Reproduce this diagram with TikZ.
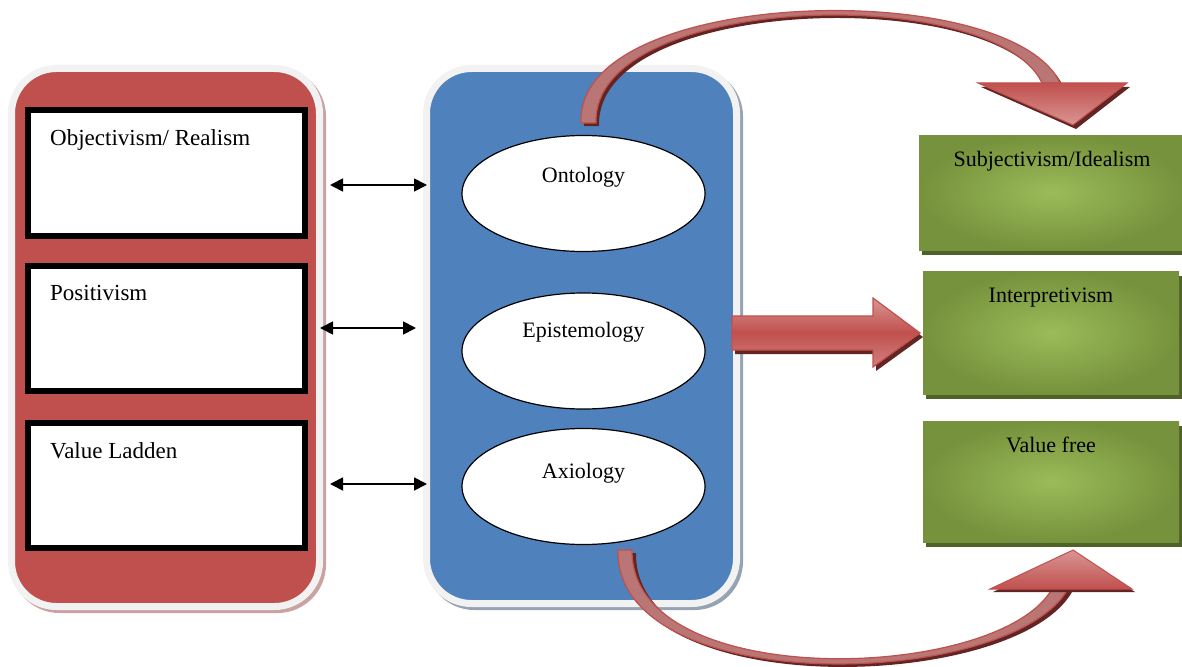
\documentclass[tikz,border=0pt]{standalone}
\usepackage{fontspec}
\setmainfont{Liberation Serif}
\usetikzlibrary{arrows.meta,shadows,shapes.geometric}
\definecolor{panelred}{HTML}{C0504D}
\definecolor{panelblue}{HTML}{4F81BD}
\definecolor{rimgray}{HTML}{F2F2F2}
\definecolor{redshadow}{HTML}{C9A3A2}
\definecolor{blueshadow}{HTML}{95A3B3}
\definecolor{greenedge}{HTML}{76923C}
\definecolor{greenmid}{HTML}{9BBB59}
\definecolor{greenshadow}{HTML}{4F6228}
\definecolor{arrowdark}{HTML}{632523}
\definecolor{arrowpink}{HTML}{D99694}
\definecolor{arrowmuted}{HTML}{B97674}

\begin{document}
\begin{tikzpicture}[x=1pt,y=-1pt,
    panel/.style={rounded corners=45pt, draw=rimgray, line width=7pt, inner sep=0pt},
    thinkbox/.style={draw=black, fill=white, line width=6pt, minimum width=277pt, minimum height=125pt, inner sep=0pt},
    oval/.style={ellipse, draw=black, fill=white, line width=1.2pt, minimum width=243pt, minimum height=116pt, inner sep=0pt},
    greenbox/.style={inner color=greenmid, outer color=greenedge, inner sep=0pt,
        general shadow={fill=greenshadow, shadow xshift=3pt, shadow yshift=-5pt}},
    lefttext/.style={anchor=base west, inner sep=0pt, font=\fontsize{23}{27}\selectfont},
    midtext/.style={anchor=base, inner sep=0pt, font=\fontsize{22}{26}\selectfont},
    dblarr/.style={{Triangle[length=13pt,width=13pt]}-{Triangle[length=13pt,width=13pt]}, line width=1.8pt},
    shaftfill/.style={fill=arrowmuted, draw=panelred, line width=1.2pt}]
    \useasboundingbox (0,0) rectangle (1182,666);

    % pannelli arrotondati
    \node[panel, fill=panelred, minimum width=308pt, minimum height=538pt,
        general shadow={fill=redshadow, draw=redshadow, line width=7pt, shadow xshift=3pt, shadow yshift=-3pt}] (red) at (165.5,337.5) {};
    \node[panel, fill=panelblue, minimum width=310pt, minimum height=535pt,
        general shadow={fill=blueshadow, draw=blueshadow, line width=7pt, shadow xshift=3pt, shadow yshift=-3pt}] (blue) at (581.5,336) {};

    % riquadri a sinistra
    \node[thinkbox] (obj) at (166.5,173) {};
    \node[thinkbox] (pos) at (166.5,328) {};
    \node[thinkbox] (val) at (166.5,485) {};
    \node[lefttext] (objtxt) at (50,145) {Objectivism/ Realism};
    \node[lefttext] (postxt) at (50,300) {Positivism};
    \node[lefttext] (valtxt) at (50,458) {Value Ladden};

    % ellissi
    \node[oval] (ont) at (583.5,193.5) {};
    \node[oval] (epi) at (583.5,351) {};
    \node[oval] (axi) at (583.5,486.5) {};
    \node[midtext] (onttxt) at (583.5,182) {Ontology};
    \node[midtext] (epitxt) at (583.5,337) {Epistemology};
    \node[midtext] (axitxt) at (583.5,478) {Axiology};

    % riquadri verdi
    \node[greenbox, minimum width=266pt, minimum height=115pt] (subj) at (1052,192.5) {};
    \node[greenbox, minimum width=256pt, minimum height=123pt] (interp) at (1051,332.5) {};
    \node[greenbox, minimum width=256pt, minimum height=121pt] (vfree) at (1051,481.5) {};
    \node[midtext] (subjtxt) at (1052,166) {Subjectivism/Idealism};
    \node[midtext] (interptxt) at (1051,302) {Interpretivism};
    \node[midtext] (vfreetxt) at (1051,452) {Value free};

    % frecce doppie
    \coordinate (la) at (330,185);
    \coordinate (ra) at (427,185);
    \coordinate (lb) at (320,328);
    \coordinate (rb) at (416,328);
    \coordinate (lc) at (330,484);
    \coordinate (rc) at (427,484);
    \draw[dblarr] (la) -- (ra);
    \draw[dblarr] (lb) -- (rb);
    \draw[dblarr] (lc) -- (rc);

    % freccia dritta
    \fill[arrowdark, shift={(3,4)}] (732,316) -- (873,316) -- (873,298) -- (920,333)
        -- (873,367) -- (873,350) -- (732,350) -- cycle;
    \path[draw=panelred, line width=1.2pt, top color=arrowpink, bottom color=arrowpink!70!panelred, middle color=panelred]
        (732,316) -- (873,316) -- (873,298) -- (920,333) -- (873,367) -- (873,350) -- (732,350) -- cycle;

    % freccia curva in alto
    \fill[arrowdark, shift={(3,3)}] (581,123) .. controls (575,-14) and (1010,-24) .. (1060,83)
        -- (1042,83) .. controls (995,-18) and (592,-8) .. (596,123) -- cycle;
    \path[shaftfill] (581,123) .. controls (575,-14) and (1010,-24) .. (1060,83)
        -- (1042,83) .. controls (995,-18) and (592,-8) .. (596,123) -- cycle;
    \fill[arrowdark, shift={(3,4)}] (978,83) -- (1127,83) -- (1073,125) -- cycle;
    \path[draw=panelred, line width=1pt, top color=panelred, bottom color=arrowpink]
        (978,83) -- (1127,83) -- (1073,125) -- cycle;

    % freccia curva in basso
    \fill[arrowdark, shift={(4,3)}] (618,550) .. controls (615,700) and (1010,690) .. (1068,589)
        -- (1052,589) .. controls (998,683) and (630,693) .. (632,550) -- cycle;
    \path[shaftfill] (618,550) .. controls (615,700) and (1010,690) .. (1068,589)
        -- (1052,589) .. controls (998,683) and (630,693) .. (632,550) -- cycle;
    \fill[arrowdark, shift={(3,3)}] (990,589) -- (1132,589) -- (1073,550) -- cycle;
    \path[draw=panelred, line width=1pt, top color=arrowpink, bottom color=panelred]
        (990,589) -- (1132,589) -- (1073,550) -- cycle;
\end{tikzpicture}
\end{document}
